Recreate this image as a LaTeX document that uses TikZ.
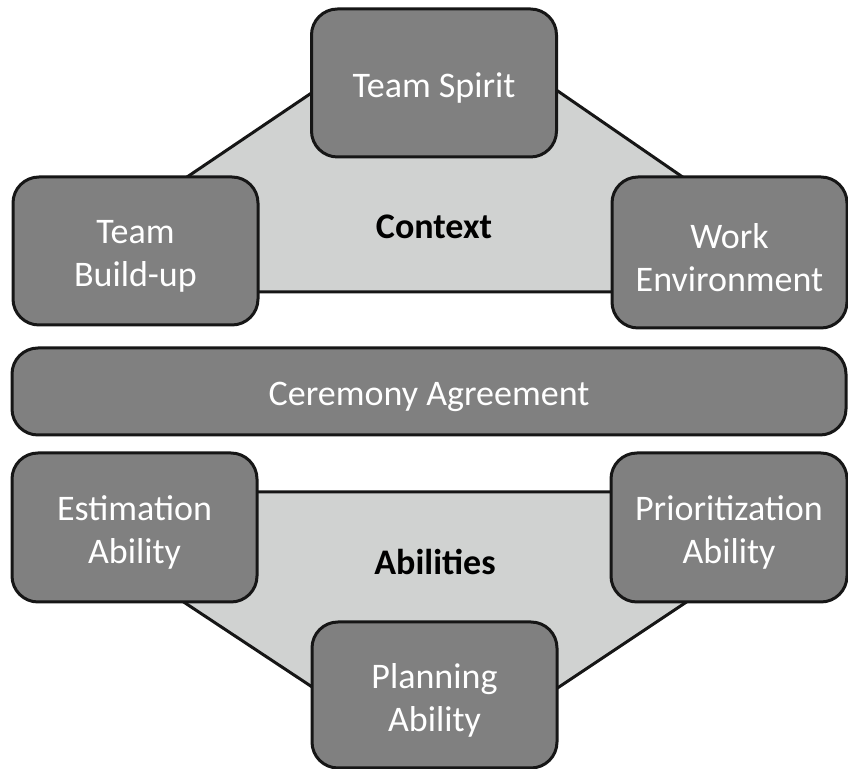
\documentclass[tikz,border=0pt]{standalone}
\usepackage{fontspec}
\setmainfont{Carlito}
\usepackage{tikz}
\definecolor{boxgray}{RGB}{128,128,128}
\definecolor{areagray}{RGB}{208,210,209}
\definecolor{edgeblack}{RGB}{22,22,22}
\newcommand{\factorfont}{\fontsize{18}{21.5}\selectfont}
\tikzstyle{factor}=[draw=edgeblack, line width=1.5pt, fill=boxgray, rounded corners=13pt,
                    inner sep=0, outer sep=0]
\tikzstyle{wfactor}=[factor, minimum width=122.5pt, minimum height=74pt]
\tikzstyle{ftext}=[text=white, align=center, font=\factorfont, yshift=-2.5pt]
\tikzstyle{area}=[draw=edgeblack, line width=1.5pt, fill=areagray, line join=round]
\tikzstyle{grouplabel}=[font=\factorfont\bfseries, text=black]
\tikzstyle{factordiagram}=[x=0.5pt, y=-0.5pt,
                           % Fix the page to the size of the picture.
                           execute at begin picture={\useasboundingbox (0, 0) rectangle (848, 769);}]
\begin{document}
\begin{tikzpicture}[factordiagram]
    % Context
    \draw[area] (350, 67) -- (150, 202) -- (150, 292) -- (700, 292) -- (700, 189) -- (520, 65) -- cycle;
    \node[grouplabel] (context) at (434, 227) {Context};
    \node[wfactor, label={[ftext]center:Team Spirit}] (spirit) at (434, 83) {};
    \node[wfactor, label={[ftext]center:{Team\\Build-up}}] (buildup) at (135.5, 251) {};
    \node[wfactor, minimum width=117.5pt, minimum height=75.5pt,
          label={[ftext]center:{Work\\Environment}}] (workenv) at (729.5, 252.5) {};

    \node[factor, minimum width=417pt, minimum height=43.5pt,
          label={[ftext]center:Ceremony Agreement}] (ceremony) at (429, 391.5) {};

    % Abilities
    \draw[area] (170, 492) -- (700, 492) -- (700, 593) -- (520, 713) -- (350, 712) -- (170, 593) -- cycle;
    \node[grouplabel] (abilities) at (435, 562) {Abilities};
    \node[wfactor, minimum height=74.5pt, label={[ftext]center:{Estimation\\Ability}}] (estimation) at (134.5, 527.5) {};
    \node[wfactor, minimum width=118pt, minimum height=74.5pt,
          label={[ftext]center:{Prioritization\\Ability}}] (prioritization) at (729, 527.5) {};
    \node[wfactor, minimum height=73pt, label={[ftext]center:{Planning\\Ability}}] (planning) at (434.5, 695) {};
\end{tikzpicture}
\end{document}
